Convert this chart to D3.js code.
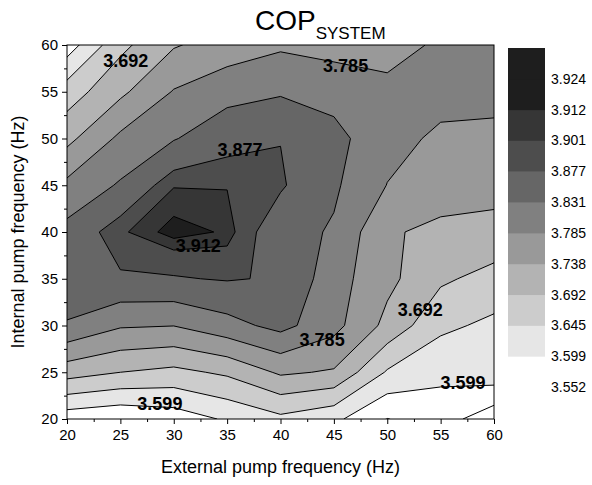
<!DOCTYPE html>
<html>
<head>
<meta charset="utf-8">
<script src="https://cdn.jsdelivr.net/npm/d3@7/dist/d3.min.js"></script>
<style>
  body { margin: 0; background: #ffffff; }
  text { font-family: "Liberation Sans", Arial, Helvetica, sans-serif; fill: #000; }
</style>
</head>
<body>
<svg id="chart" width="592" height="485"></svg>
<script>
// Pump frequency grid (Hz)
const externalFreq = [20, 25, 30, 35, 40, 45, 50, 55, 60];
const internalFreq = [20, 25, 30, 35, 40, 45, 50, 55, 60];

// System COP, one row per internal pump frequency (20 Hz first),
// columns in the order of externalFreq
const copRows = [
  [3.571, 3.559, 3.573, 3.605, 3.634, 3.610, 3.551, 3.575, 3.520],
  [3.712, 3.692, 3.680, 3.700, 3.745, 3.733, 3.640, 3.610, 3.629],
  [3.826, 3.790, 3.786, 3.815, 3.845, 3.800, 3.725, 3.655, 3.635],
  [3.868, 3.872, 3.874, 3.880, 3.873, 3.805, 3.750, 3.700, 3.675],
  [3.845, 3.898, 3.918, 3.910, 3.850, 3.826, 3.744, 3.726, 3.725],
  [3.796, 3.836, 3.900, 3.900, 3.882, 3.838, 3.784, 3.763, 3.752],
  [3.725, 3.795, 3.828, 3.862, 3.876, 3.845, 3.800, 3.777, 3.770],
  [3.668, 3.728, 3.788, 3.815, 3.826, 3.815, 3.800, 3.800, 3.804],
  [3.575, 3.680, 3.734, 3.759, 3.778, 3.768, 3.763, 3.794, 3.810]
];

// Contour levels and the grey fill used from each level upward
const levels = [3.552, 3.599, 3.645, 3.692, 3.738, 3.785, 3.831, 3.877, 3.901, 3.912, 3.924];
const levelFills = ["#ffffff", "#e6e6e6", "#cccccc", "#b3b3b3", "#999999", "#808080",
                    "#666666", "#4d4d4d", "#363636", "#1e1e1e", "#1e1e1e"];

const xTicks = [20, 25, 30, 35, 40, 45, 50, 55, 60];
const yTicks = [20, 25, 30, 35, 40, 45, 50, 55, 60];

// In-plot level labels: value and the (external, internal) frequency they sit at
const lineLabels = [
  { value: 3.692, ext: 25.5, int: 58.3 },
  { value: 3.785, ext: 46.1, int: 57.8 },
  { value: 3.877, ext: 36.2, int: 48.8 },
  { value: 3.912, ext: 32.3, int: 38.5 },
  { value: 3.785, ext: 43.9, int: 28.5 },
  { value: 3.692, ext: 53.1, int: 31.7 },
  { value: 3.599, ext: 57.1, int: 23.8 },
  { value: 3.599, ext: 28.7, int: 21.6 }
];

const svg = d3.select("#chart");
const plot = { left: 67, right: 494, top: 45, bottom: 419 };

const x = d3.scaleLinear().domain([20, 60]).range([plot.left, plot.right]);
const y = d3.scaleLinear().domain([20, 60]).range([plot.bottom, plot.top]);

// ---- filled contours ----
const nx = externalFreq.length, ny = internalFreq.length;
const values = copRows.flat();
const dxStep = externalFreq[1] - externalFreq[0];
const dyStep = internalFreq[1] - internalFreq[0];

// contour grid coordinates -> frequencies -> pixels (grid value k sits at k + 0.5)
const toPixels = d3.geoTransform({
  point(cx, cy) {
    this.stream.point(
      x(externalFreq[0] + (cx - 0.5) * dxStep),
      y(internalFreq[0] + (cy - 0.5) * dyStep)
    );
  }
});
const path = d3.geoPath(toPixels);
const contours = d3.contours().size([nx, ny]).thresholds(levels)(values);

svg.append("clipPath").attr("id", "plot-clip")
  .append("rect")
  .attr("x", plot.left).attr("y", plot.top)
  .attr("width", plot.right - plot.left).attr("height", plot.bottom - plot.top);

const field = svg.append("g").attr("clip-path", "url(#plot-clip)");
field.append("rect")
  .attr("x", plot.left).attr("y", plot.top)
  .attr("width", plot.right - plot.left).attr("height", plot.bottom - plot.top)
  .attr("fill", "#ffffff");

field.selectAll("path.fill")
  .data(contours)
  .join("path")
  .attr("class", "fill")
  .attr("d", path)
  .attr("fill", (d, i) => levelFills[i])
  .attr("stroke", "none");

field.selectAll("path.line")
  .data(contours)
  .join("path")
  .attr("class", "line")
  .attr("d", path)
  .attr("fill", "none")
  .attr("stroke", "#000")
  .attr("stroke-width", 1)
  .attr("stroke-linejoin", "round");

// ---- level labels ----
svg.append("g").selectAll("text")
  .data(lineLabels)
  .join("text")
  .attr("x", d => x(d.ext))
  .attr("y", d => y(d.int))
  .attr("text-anchor", "middle")
  .attr("dominant-baseline", "central")
  .style("font-size", "18px")
  .style("font-weight", "bold")
  .text(d => d3.format(".3f")(d.value));

// ---- frame and axes ----
svg.append("rect")
  .attr("x", plot.left).attr("y", plot.top)
  .attr("width", plot.right - plot.left).attr("height", plot.bottom - plot.top)
  .attr("fill", "none").attr("stroke", "#000").attr("stroke-width", 1);

const minorX = d3.pairs(xTicks).map(([a, b]) => (a + b) / 2);
const minorY = d3.pairs(yTicks).map(([a, b]) => (a + b) / 2);

function styleAxis(g) {
  g.select(".domain").remove();
  g.selectAll(".tick line").attr("stroke", "#000").attr("stroke-width", 1);
  g.selectAll(".tick text").style("font-size", "15px").attr("fill", "#000");
}

svg.append("g")
  .attr("transform", `translate(0,${plot.bottom})`)
  .call(d3.axisBottom(x).tickValues(xTicks).tickSize(5).tickPadding(5).tickFormat(d3.format("d")))
  .call(styleAxis);
svg.append("g")
  .attr("transform", `translate(0,${plot.bottom})`)
  .call(d3.axisBottom(x).tickValues(minorX).tickSize(3).tickFormat(""))
  .call(styleAxis);

svg.append("g")
  .attr("transform", `translate(${plot.left},0)`)
  .call(d3.axisLeft(y).tickValues(yTicks).tickSize(5).tickPadding(4).tickFormat(d3.format("d")))
  .call(styleAxis);
svg.append("g")
  .attr("transform", `translate(${plot.left},0)`)
  .call(d3.axisLeft(y).tickValues(minorY).tickSize(3).tickFormat(""))
  .call(styleAxis);

// axis titles
svg.append("text")
  .attr("x", (plot.left + plot.right) / 2)
  .attr("y", 473)
  .attr("text-anchor", "middle")
  .style("font-size", "18px")
  .text("External pump frequency (Hz)");

svg.append("text")
  .attr("transform", `translate(24,${(plot.top + plot.bottom) / 2}) rotate(-90)`)
  .attr("text-anchor", "middle")
  .style("font-size", "18px")
  .text("Internal pump frequency (Hz)");

// chart title with subscript
const title = svg.append("text")
  .attr("x", 255)
  .attr("y", 30);
title.append("tspan").style("font-size", "28px").text("COP");
title.append("tspan").attr("dy", 9).style("font-size", "17px").text("SYSTEM");

// ---- colour scale legend ----
const legend = svg.append("g");
const legendY = d3.scaleLinear().domain([0, levels.length]).range([387, 48]);
legend.selectAll("rect")
  .data(levels.map((lv, i) => i))
  .join("rect")
  .attr("x", 508)
  .attr("width", 37)
  .attr("y", i => legendY(i + 1))
  .attr("height", i => legendY(i) - legendY(i + 1) + 0.5)
  .attr("fill", i => levelFills[i]);

legend.selectAll("text")
  .data(levels)
  .join("text")
  .attr("x", 551)
  .attr("y", (d, i) => legendY(i))
  .attr("dominant-baseline", "central")
  .style("font-size", "14px")
  .text(d => d3.format(".3f")(d));
</script>
</body>
</html>
